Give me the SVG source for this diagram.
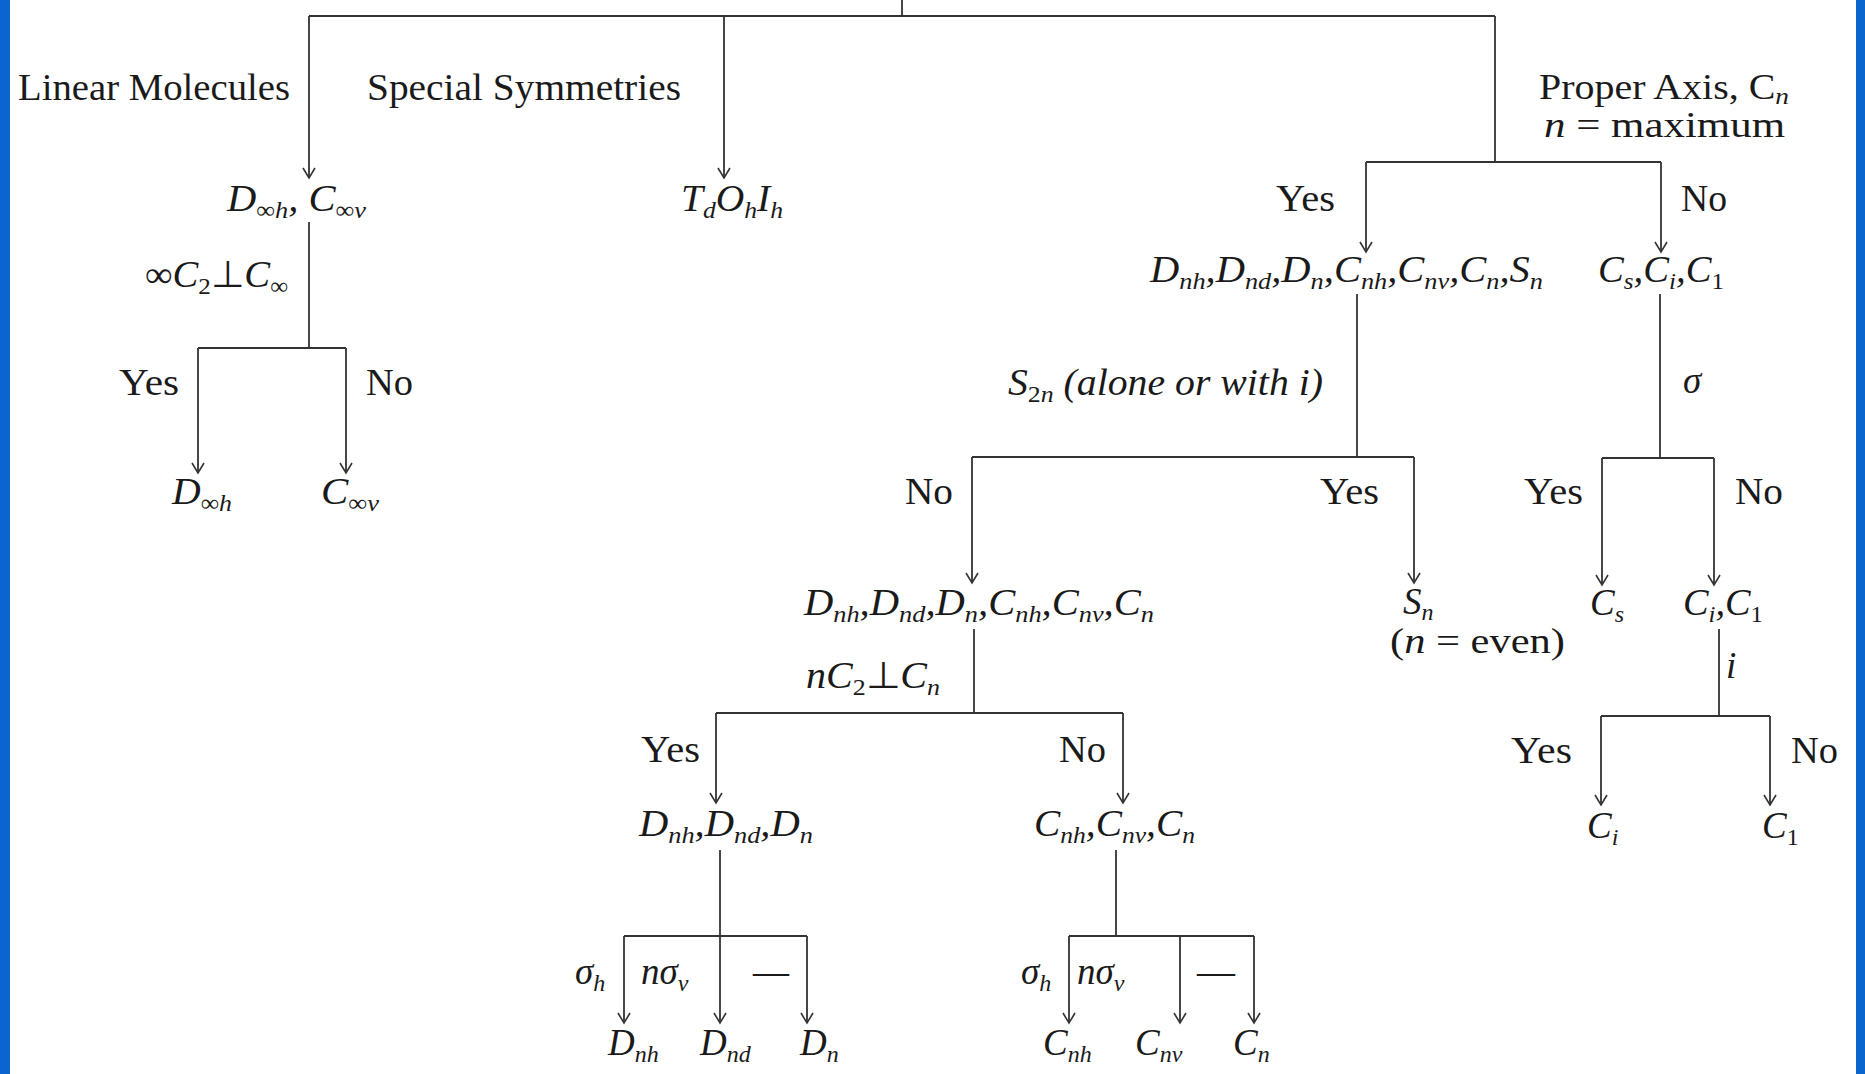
<svg xmlns="http://www.w3.org/2000/svg" width="1865" height="1074" viewBox="0 0 1865 1074">
<defs>
<marker id="ah" markerUnits="userSpaceOnUse" orient="auto" viewBox="-12 -8 14 16" refX="0" refY="0" markerWidth="14" markerHeight="16" overflow="visible">
<path d="M-10,-6 L0,0 L-10,6" fill="none" stroke="#333" stroke-width="1.6"/>
</marker>
<style>
text{font-family:"Liberation Serif","Times New Roman",serif;fill:#1a1a1a;font-size:37px}
.m{font-style:italic}
.s{font-size:24px}
.r{font-style:normal}
.t{font-size:35px}
.c path{fill:none;stroke:#333;stroke-width:1.8}
.a{marker-end:url(#ah)}
</style>
</defs>
<rect x="0" y="0" width="1865" height="1074" fill="#fff"/>
<rect x="0" y="0" width="10" height="1074" fill="#0a66cc"/>
<rect x="1856" y="0" width="9" height="1074" fill="#0a66cc"/>

<g id="connectors" class="c">
<path d="M902,0 V16"/>
<path d="M309,16 H1495"/>
<path class="a" d="M309,16 V178"/>
<path class="a" d="M724,16 V178"/>
<path d="M1495,16 V162"/>
<path d="M1366,162 H1661"/>
<path class="a" d="M1366,162 V252"/>
<path class="a" d="M1661,162 V252"/>
<path d="M309,222 V348"/>
<path d="M198,348 H346"/>
<path class="a" d="M198,348 V473"/>
<path class="a" d="M346,348 V473"/>
<path d="M1357,294 V457"/>
<path d="M972,457 H1414"/>
<path class="a" d="M972,457 V583"/>
<path class="a" d="M1414,457 V583"/>
<path d="M1660,294 V458"/>
<path d="M1602,458 H1714"/>
<path class="a" d="M1602,458 V585"/>
<path class="a" d="M1714,458 V585"/>
<path d="M974,629 V713"/>
<path d="M716,713 H1123"/>
<path class="a" d="M716,713 V803"/>
<path class="a" d="M1123,713 V803"/>
<path d="M1719,629 V716"/>
<path d="M1601,716 H1770"/>
<path class="a" d="M1601,716 V805"/>
<path class="a" d="M1770,716 V805"/>
<path class="a" d="M720,850 V1023"/>
<path d="M624,936 H807"/>
<path class="a" d="M624,936 V1023"/>
<path class="a" d="M807,936 V1023"/>
<path d="M1116,850 V936"/>
<path d="M1069,936 H1254"/>
<path class="a" d="M1069,936 V1023"/>
<path class="a" d="M1180,936 V1023"/>
<path class="a" d="M1254,936 V1023"/>
</g>

<g id="n-linear"><text x="18" y="100" textLength="272" lengthAdjust="spacingAndGlyphs">Linear Molecules</text></g>
<g id="n-special"><text x="367" y="100" textLength="314" lengthAdjust="spacingAndGlyphs">Special Symmetries</text></g>
<g id="n-proper">
<text class="t" x="1539" y="99" textLength="250" lengthAdjust="spacingAndGlyphs">Proper Axis, C<tspan class="m s" dy="5">n</tspan></text>
<text class="t" x="1544" y="137" textLength="241" lengthAdjust="spacingAndGlyphs"><tspan class="m">n</tspan> = maximum</text>
</g>

<g id="n-dinf"><text class="m" x="227" y="211" textLength="139" lengthAdjust="spacingAndGlyphs">D<tspan class="s" dy="7"><tspan class="r">∞</tspan>h</tspan><tspan dy="-7">, C</tspan><tspan class="s" dy="7"><tspan class="r">∞</tspan>v</tspan></text></g>
<g id="n-tdohih"><text class="m" x="681" y="211" textLength="102" lengthAdjust="spacingAndGlyphs">T<tspan class="s" dy="7">d</tspan><tspan dy="-7">O</tspan><tspan class="s" dy="7">h</tspan><tspan dy="-7">I</tspan><tspan class="s" dy="7">h</tspan></text></g>
<g id="l-infc2"><text class="m" x="145" y="287" textLength="143" lengthAdjust="spacingAndGlyphs"><tspan class="r">∞</tspan>C<tspan class="s r" dy="7">2</tspan><tspan class="r" dy="-7">⊥</tspan>C<tspan class="s r" dy="7">∞</tspan></text></g>
<g id="l-yes1"><text x="119" y="395" textLength="60" lengthAdjust="spacingAndGlyphs">Yes</text></g>
<g id="l-no1"><text x="366" y="395" textLength="47" lengthAdjust="spacingAndGlyphs">No</text></g>
<g id="n-dinfh"><text class="m" x="172" y="504" textLength="60" lengthAdjust="spacingAndGlyphs">D<tspan class="s" dy="7"><tspan class="r">∞</tspan>h</tspan></text></g>
<g id="n-cinfv"><text class="m" x="321" y="504" textLength="58" lengthAdjust="spacingAndGlyphs">C<tspan class="s" dy="7"><tspan class="r">∞</tspan>v</tspan></text></g>

<g id="l-yes2"><text x="1276" y="211" textLength="59" lengthAdjust="spacingAndGlyphs">Yes</text></g>
<g id="l-no2"><text x="1681" y="211" textLength="46" lengthAdjust="spacingAndGlyphs">No</text></g>
<g id="n-dnh-all"><text class="m" x="1150" y="282" textLength="393" lengthAdjust="spacingAndGlyphs">D<tspan class="s" dy="7">nh</tspan><tspan dy="-7">,D</tspan><tspan class="s" dy="7">nd</tspan><tspan dy="-7">,D</tspan><tspan class="s" dy="7">n</tspan><tspan dy="-7">,C</tspan><tspan class="s" dy="7">nh</tspan><tspan dy="-7">,C</tspan><tspan class="s" dy="7">nv</tspan><tspan dy="-7">,C</tspan><tspan class="s" dy="7">n</tspan><tspan dy="-7">,S</tspan><tspan class="s" dy="7">n</tspan></text></g>
<g id="n-csci1"><text class="m" x="1598" y="282" textLength="126" lengthAdjust="spacingAndGlyphs">C<tspan class="s" dy="7">s</tspan><tspan dy="-7">,C</tspan><tspan class="s" dy="7">i</tspan><tspan dy="-7">,C</tspan><tspan class="s r" dy="7">1</tspan></text></g>
<g id="l-s2n"><text class="m" x="1008" y="395" textLength="315" lengthAdjust="spacingAndGlyphs">S<tspan class="s" dy="7"><tspan class="r">2</tspan>n</tspan><tspan dy="-7"> (alone or with i)</tspan></text></g>
<g id="l-sigma"><text class="m" x="1683" y="393">σ</text></g>

<g id="l-no3"><text x="905" y="504" textLength="48" lengthAdjust="spacingAndGlyphs">No</text></g>
<g id="l-yes3"><text x="1320" y="504" textLength="59" lengthAdjust="spacingAndGlyphs">Yes</text></g>
<g id="l-yes4"><text x="1524" y="504" textLength="59" lengthAdjust="spacingAndGlyphs">Yes</text></g>
<g id="l-no4"><text x="1735" y="504" textLength="48" lengthAdjust="spacingAndGlyphs">No</text></g>
<g id="n-dnh-mid"><text class="m" x="804" y="615" textLength="350" lengthAdjust="spacingAndGlyphs">D<tspan class="s" dy="7">nh</tspan><tspan dy="-7">,D</tspan><tspan class="s" dy="7">nd</tspan><tspan dy="-7">,D</tspan><tspan class="s" dy="7">n</tspan><tspan dy="-7">,C</tspan><tspan class="s" dy="7">nh</tspan><tspan dy="-7">,C</tspan><tspan class="s" dy="7">nv</tspan><tspan dy="-7">,C</tspan><tspan class="s" dy="7">n</tspan></text></g>
<g id="n-sn"><text class="m" x="1403" y="614">S<tspan class="s" dy="6">n</tspan></text>
<text class="t" x="1390" y="653" textLength="175" lengthAdjust="spacingAndGlyphs">(<tspan class="m">n</tspan> = even)</text></g>
<g id="n-cs"><text class="m" x="1590" y="615">C<tspan class="s" dy="7">s</tspan></text></g>
<g id="n-cic1"><text class="m" x="1683" y="615" textLength="80" lengthAdjust="spacingAndGlyphs">C<tspan class="s" dy="7">i</tspan><tspan dy="-7">,C</tspan><tspan class="s r" dy="7">1</tspan></text></g>
<g id="l-i"><text class="m" x="1726" y="678">i</text></g>
<g id="l-nc2"><text class="m" x="806" y="688" textLength="134" lengthAdjust="spacingAndGlyphs">nC<tspan class="s r" dy="7">2</tspan><tspan class="r" dy="-7">⊥</tspan>C<tspan class="s" dy="7">n</tspan></text></g>
<g id="l-yes5"><text x="1511" y="763" textLength="61" lengthAdjust="spacingAndGlyphs">Yes</text></g>
<g id="l-no5"><text x="1791" y="763" textLength="47" lengthAdjust="spacingAndGlyphs">No</text></g>
<g id="n-ci"><text class="m" x="1587" y="838">C<tspan class="s" dy="7">i</tspan></text></g>
<g id="n-c1"><text class="m" x="1762" y="838">C<tspan class="s r" dy="7">1</tspan></text></g>

<g id="l-yes6"><text x="641" y="762" textLength="59" lengthAdjust="spacingAndGlyphs">Yes</text></g>
<g id="l-no6"><text x="1059" y="762" textLength="47" lengthAdjust="spacingAndGlyphs">No</text></g>
<g id="n-dgroup"><text class="m" x="639" y="836" textLength="174" lengthAdjust="spacingAndGlyphs">D<tspan class="s" dy="7">nh</tspan><tspan dy="-7">,D</tspan><tspan class="s" dy="7">nd</tspan><tspan dy="-7">,D</tspan><tspan class="s" dy="7">n</tspan></text></g>
<g id="n-cgroup"><text class="m" x="1034" y="836" textLength="161" lengthAdjust="spacingAndGlyphs">C<tspan class="s" dy="7">nh</tspan><tspan dy="-7">,C</tspan><tspan class="s" dy="7">nv</tspan><tspan dy="-7">,C</tspan><tspan class="s" dy="7">n</tspan></text></g>

<g id="l-dlabels">
<text class="m" x="575" y="984">σ<tspan class="s" dy="7">h</tspan></text>
<text class="m" x="641" y="984">nσ<tspan class="s" dy="7">v</tspan></text>
<text x="753" y="984" textLength="36" lengthAdjust="spacingAndGlyphs">—</text>
</g>
<g id="n-dnh"><text class="m" x="608" y="1055">D<tspan class="s" dy="7">nh</tspan></text></g>
<g id="n-dnd"><text class="m" x="700" y="1055">D<tspan class="s" dy="7">nd</tspan></text></g>
<g id="n-dn"><text class="m" x="800" y="1055">D<tspan class="s" dy="7">n</tspan></text></g>
<g id="l-clabels">
<text class="m" x="1021" y="984">σ<tspan class="s" dy="7">h</tspan></text>
<text class="m" x="1077" y="984">nσ<tspan class="s" dy="7">v</tspan></text>
<text x="1197" y="984" textLength="38" lengthAdjust="spacingAndGlyphs">—</text>
</g>
<g id="n-cnh"><text class="m" x="1043" y="1055">C<tspan class="s" dy="7">nh</tspan></text></g>
<g id="n-cnv"><text class="m" x="1135" y="1055">C<tspan class="s" dy="7">nv</tspan></text></g>
<g id="n-cn"><text class="m" x="1233" y="1055">C<tspan class="s" dy="7">n</tspan></text></g>
</svg>
